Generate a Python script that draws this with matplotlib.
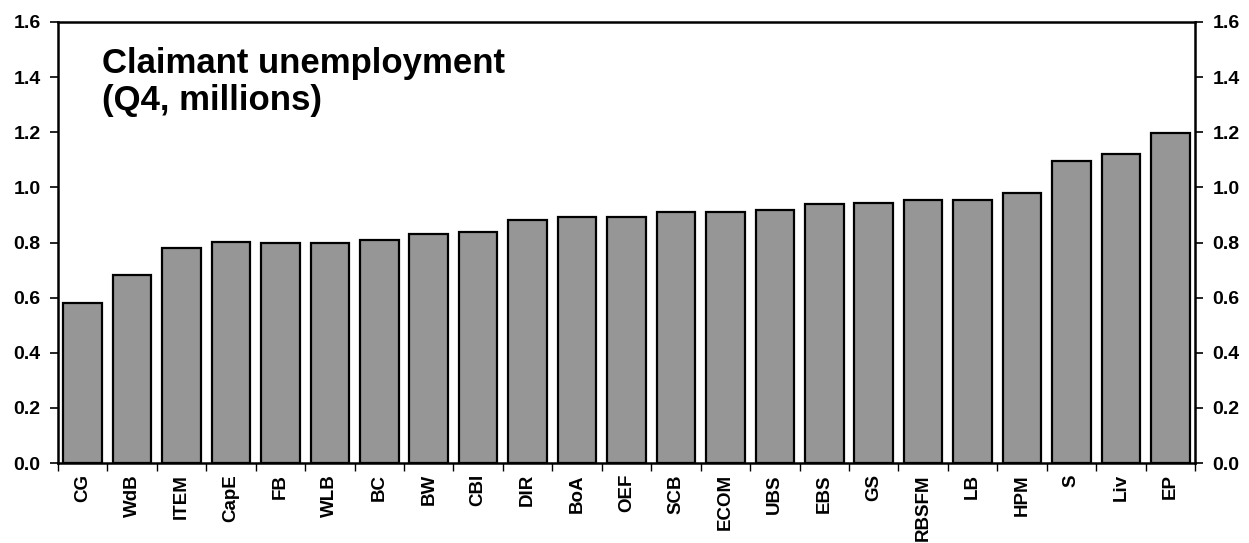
import matplotlib
matplotlib.use("Agg")
import matplotlib.pyplot as plt
import numpy as np

categories = ["CG", "WdB", "ITEM", "CapE", "FB", "WLB", "BC", "BW", "CBI", "DIR",
              "BoA", "OEF", "SCB", "ECOM", "UBS", "EBS", "GS", "RBSFM", "LB", "HPM",
              "S", "Liv", "EP"]
values = [0.582, 0.683, 0.780, 0.802, 0.800, 0.800, 0.808, 0.831, 0.839, 0.882,
          0.891, 0.891, 0.910, 0.910, 0.919, 0.940, 0.943, 0.954, 0.955, 0.980,
          1.095, 1.121, 1.199]
yticks = [0.0, 0.2, 0.4, 0.6, 0.8, 1.0, 1.2, 1.4, 1.6]
title = "Claimant unemployment\n(Q4, millions)"

plt.rcParams['font.family'] = ['Liberation Sans', 'DejaVu Sans']

fig = plt.figure(figsize=(12.49, 5.43), dpi=100)
ax = fig.add_axes([58/1249, 1 - 463/543, (1195-58)/1249, (463-22)/543])

x = np.arange(len(categories))
ax.bar(x, values, width=0.78, color="#969696", edgecolor="black", linewidth=1.6, zorder=3)

ax.set_xlim(-0.5, len(categories) - 0.5)
ax.set_ylim(0, 1.6)
ax.set_yticks(yticks)
ax.set_yticklabels([f"{v:.1f}" for v in yticks], fontsize=14, fontweight="bold")
ax.tick_params(axis="y", which="both", direction="out", length=6, width=1.2,
               left=True, right=True, labelleft=True, labelright=True, pad=6.5)

# x tick marks between categories, labels centred
ax.set_xticks(np.arange(-0.5, len(categories)), minor=False)
ax.set_xticklabels([])
ax.set_xticks(x, minor=True)
ax.set_xticklabels(categories, minor=True, rotation=90, fontsize=13.5, fontweight="bold")
ax.tick_params(axis="x", which="major", direction="out", length=6, width=1.0)
ax.tick_params(axis="x", which="minor", length=0, pad=8)

for s in ax.spines.values():
    s.set_linewidth(1.8)

ax.text((102 - 58) / 1137, 0.943, title, transform=ax.transAxes, fontsize=25,
        fontweight="bold", va="top", ha="left", linespacing=1.15)

fig.savefig("out.png", dpi=100)
